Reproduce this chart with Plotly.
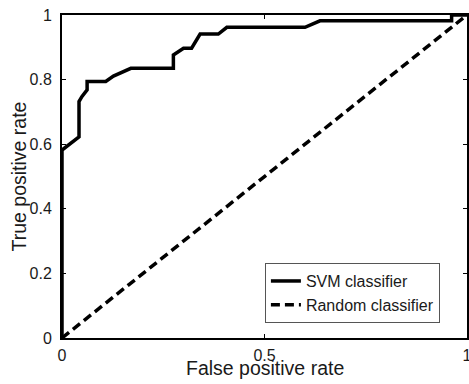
import plotly.graph_objects as go

svm_fpr = [0.0, 0.0, 0.042, 0.042, 0.049, 0.062, 0.062, 0.108, 0.127, 0.170, 0.275, 0.275, 0.300, 0.320,
           0.341, 0.386, 0.407, 0.600, 0.637, 0.962, 0.962, 1.0]
svm_tpr = [0.0, 0.582, 0.623, 0.732, 0.747, 0.768, 0.794, 0.794, 0.811, 0.835, 0.835, 0.876, 0.897, 0.897,
           0.941, 0.941, 0.962, 0.962, 0.982, 0.982, 1.0, 1.0]
rand_fpr = [0.0, 1.0]
rand_tpr = [0.0, 1.0]

x_ticks = [0, 0.5, 1]
x_tick_labels = ["0", "0.5", "1"]
y_ticks = [0, 0.2, 0.4, 0.6, 0.8, 1]
y_tick_labels = ["0", "0.2", "0.4", "0.6", "0.8", "1"]

FONT = "Liberation Sans, Arial, sans-serif"
TXT = "#1a1a1a"

fig = go.Figure()
fig.add_trace(go.Scatter(x=svm_fpr, y=svm_tpr, mode="lines", name="SVM classifier",
                         line=dict(color="black", width=3.5)))
fig.add_trace(go.Scatter(x=rand_fpr, y=rand_tpr, mode="lines", name="Random classifier",
                         line=dict(color="black", width=3.5, dash="9px,5px")))

axis_common = dict(showline=True, linecolor="black", linewidth=2, mirror="ticks",
                   ticks="inside", ticklen=4, tickcolor="black", tickwidth=1,
                   showgrid=False, zeroline=False, automargin=False,
                   ticklabeloverflow="allow",
                   tickfont=dict(family=FONT, size=16, color=TXT))

fig.update_layout(
    width=469, height=384, autosize=False,
    margin=dict(l=62, r=2, t=15, b=46),
    paper_bgcolor="white", plot_bgcolor="white",
    font=dict(family=FONT, size=16, color=TXT),
    xaxis=dict(range=[0, 1], tickvals=x_ticks, ticktext=x_tick_labels,
               ticklabelstandoff=2, **axis_common),
    yaxis=dict(range=[0, 1], tickvals=y_ticks, ticktext=y_tick_labels,
               ticklabelstandoff=5, **axis_common),
    legend=dict(x=0.501, y=0.232, xanchor="left", yanchor="top",
                bgcolor="white", bordercolor="#555", borderwidth=1,
                font=dict(family=FONT, size=16, color=TXT),
                itemwidth=30, tracegroupgap=0),
    showlegend=True,
    annotations=[
        dict(text="False positive rate", xref="paper", yref="paper", x=0.5, y=0,
             yshift=-17, xanchor="center", yanchor="top", showarrow=False,
             font=dict(family=FONT, size=19.5, color=TXT)),
        dict(text="True positive rate", xref="paper", yref="paper", x=0, y=0.5,
             xshift=-44, xanchor="center", yanchor="middle", textangle=-90, showarrow=False,
             font=dict(family=FONT, size=19.5, color=TXT)),
    ],
)

fig.write_html("out.html", config={"responsive": False, "displayModeBar": False},
               post_script="document.body.style.margin='0px';document.body.style.overflow='hidden';")
